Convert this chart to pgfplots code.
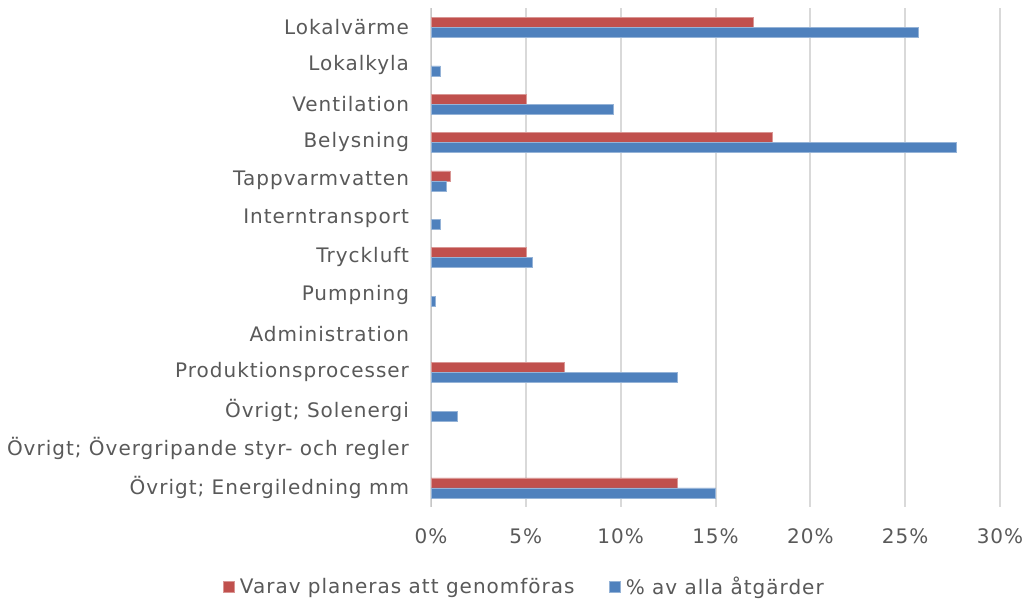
\documentclass[border=0pt]{standalone}
\usepackage{pgfplots}
\pgfplotsset{compat=1.18}
\usepackage{fontspec}
\setmainfont{DejaVu Sans}[LetterSpace=5]
\definecolor{cred}{HTML}{C0504D}
\definecolor{cblue}{HTML}{4F81BD}
\definecolor{ctext}{HTML}{595959}
\definecolor{cgrid}{HTML}{D9D9D9}
\begin{document}
\begin{tikzpicture}[x=1pt,y=1pt]
\useasboundingbox (0,0) rectangle (768,450);
\begin{axis}[
  at={(323.25pt,69.75pt)}, anchor=south west,
  scale only axis, width=426.75pt, height=374pt,
  xbar, bar width=7.5pt,
  xmin=0, xmax=30, ymin=-0.5, ymax=12.5, y dir=reverse,
  xtick={0,5,...,30}, xticklabel={\pgfmathprintnumber{\tick}\%},
  /pgf/number format/assume math mode=true,
  ytick={0,...,12},
  yticklabels={Lokalvärme,Lokalkyla,Ventilation,Belysning,Tappvarmvatten,Interntransport,Tryckluft,Pumpning,Administration,Produktionsprocesser,{Övrigt; Solenergi},{Övrigt; Övergripande styr- och regler},{Övrigt; Energiledning mm}},
  xmajorgrids, major grid style={cgrid, line width=1.5pt},
  major tick length=0pt,
  axis line style={draw=none},
  axis x line*=bottom, axis y line*=left,
  tick label style={font=\fontsize{15}{17}\selectfont, text=ctext},
  yticklabel style={xshift=-13pt, yshift=0.5pt},
  xticklabel style={yshift=-13pt},
  legend style={draw=none, at={(0.165,-0.16)}, anchor=center, legend columns=2,
     font=\fontsize{15}{17}\selectfont, text=ctext,
     /tikz/every even column/.append style={column sep=24pt},
     /tikz/every odd column/.append style={column sep=2pt}},
  legend image code/.code={\fill[#1] (0pt,-4pt) rectangle (8pt,4pt);},
]
\draw[color=cgrid!80!gray, line width=1pt] (axis cs:0,-0.5) -- (axis cs:0,12.5);
\addplot[bar shift=3.75pt, fill=cred, draw=cred!60!white, line width=0.4pt] coordinates {
(17,0) (5,2) (18,3) (1,4) (5,6) (7,9) (13,12)};
\addplot[bar shift=-3.75pt, fill=cblue, draw=cblue!60!white, line width=0.4pt] coordinates {
(25.7,0) (0.5,1) (9.6,2) (27.7,3) (0.8,4) (0.5,5) (5.35,6) (0.23,7) (13,9) (1.4,10) (15,12)};
\legend{Varav planeras att genomföras, \% av alla åtgärder}
\end{axis}
\end{tikzpicture}
\end{document}
